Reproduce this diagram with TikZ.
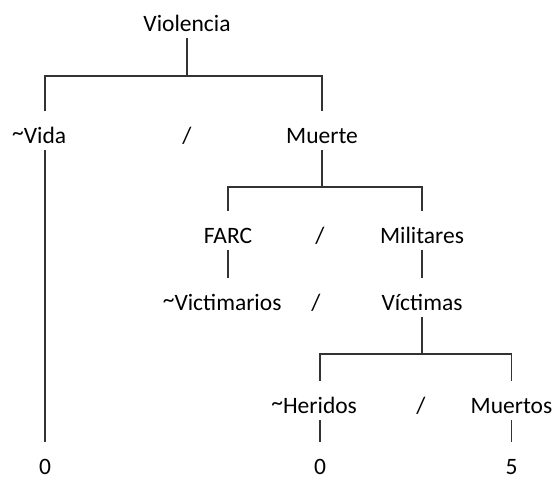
\documentclass[tikz,border=0pt]{standalone}
\usepackage{fontspec}
\setmainfont{Carlito}
\newcommand{\tneg}{\llap{\raisebox{1.5pt}{\textasciitilde}}}
\begin{document}
\begin{tikzpicture}[x=0.5pt, y=-0.5pt,
  lbl/.style={anchor=base, inner xsep=0pt, inner ysep=3.5pt, text height=12.5pt, text depth=0pt, font=\fontsize{11.75pt}{14pt}\selectfont},
  edge/.style={draw=black!80, line width=0.6pt}]
\useasboundingbox (0,0) rectangle (555,478);
\node[lbl] (w0) at (187,31) {Violencia};
\node[lbl] (w1) at (45,143) {\tneg Vida};
\node[lbl] (s1) at (187,143) {/};
\node[lbl] (w2) at (322,143) {Muerte};

\node[lbl] (w3) at (228,243) {FARC};
\node[lbl] (s2) at (320,243) {/};
\node[lbl] (w4) at (422,243) {Militares};
\node[lbl] (w5) at (228,310) {\tneg Victimarios};
\node[lbl] (s3) at (316,310) {/};
\node[lbl] (w6) at (422,310) {Víctimas};

\node[lbl] (w7) at (320,413) {\tneg Heridos};
\node[lbl] (s4) at (421,413) {/};
\node[lbl] (w8) at (511.5,413) {Muertos};

\node[lbl] (z1) at (45,474) {0};
\node[lbl] (z2) at (320,474) {0};
\node[lbl] (z3) at (511.5,474) {5};

\coordinate (j1) at (187,76);
\coordinate (j2) at (322,187);
\coordinate (j3) at (422,354);

\draw[edge] (w0) -- (j1);
\draw[edge] (w1) |- (j1) -| (w2);
\draw[edge] (w2) -- (j2);
\draw[edge] (w3) |- (j2) -| (w4);
\draw[edge] (w3) -- (w5);
\draw[edge] (w4) -- (w6);
\draw[edge] (w6) -- (j3);
\draw[edge] (w7) |- (j3) -| (w8);
\draw[edge] (w1) -- (z1);
\draw[edge] (w7) -- (z2);
\draw[edge] (w8) -- (z3);
\end{tikzpicture}
\end{document}
